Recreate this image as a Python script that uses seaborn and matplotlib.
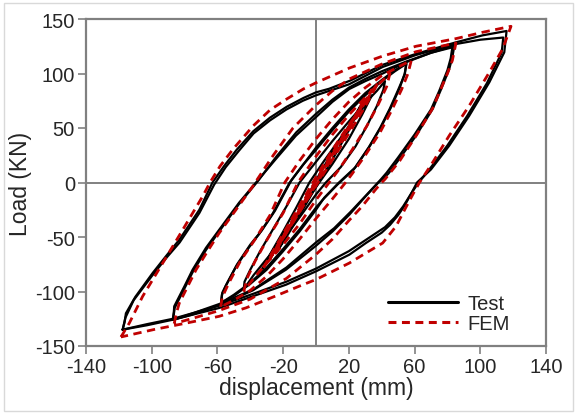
import numpy as np
import pandas as pd
import seaborn as sns
import matplotlib
matplotlib.use("Agg")
import matplotlib.pyplot as plt
from matplotlib.lines import Line2D
from matplotlib.patches import Rectangle

# ---------------- data ----------------
x_ticks = [-140, -100, -60, -20, 20, 60, 100, 140]
y_ticks = [-150, -100, -50, 0, 50, 100, 150]
series_names = ["Test", "FEM"]

# Test cycles: (displacement mm, load kN)
test_loop1a = [(-117.7, -135), (-116.5, -128), (-115.7, -120), (-110, -105), (-99.4, -83), (-91, -67),
               (-83.2, -52.5), (-71, -25), (-63, 0), (-56, 15), (-48.3, 30), (-38.2, 47), (-28, 59.5),
               (-17.8, 69.5), (-7.7, 77.5), (0, 82.7), (8, 86), (20.7, 93.4), (40.6, 108), (60.9, 118),
               (85.2, 128.6), (101.4, 135), (116, 139),
               (115, 125), (114.6, 119.4), (105.5, 91.9), (93.3, 61.3), (81.1, 33.8), (70, 12), (61.5, 0),
               (58, -10), (54, -21), (50, -30), (45, -39), (40, -46), (30.4, -55.5), (20.3, -66.2), (10.1, -73.9),
               (0, -81.5), (-18.3, -93.8), (-38.5, -104.4), (-58.9, -115.1), (-87.2, -125.9), (-103, -131),
               (-117.7, -135)]
test_loop1b = [(-117.7, -135), (-116, -124), (-111, -108), (-100, -86), (-91, -69), (-83, -55), (-71, -28),
               (-62, -2), (-55, 14), (-47, 29), (-38, 45), (-28, 57), (-18, 67), (-8, 75), (0, 80), (10, 85),
               (20, 90), (40.6, 106), (60.9, 117), (85, 127), (100, 131), (114, 133),
               (113, 119), (104, 91), (92, 61), (80, 34), (69, 12), (62, -1), (58, -10), (53, -22), (48, -32),
               (42, -41), (30, -53), (20, -63), (10, -71), (0, -79), (-18, -91), (-38, -102), (-59, -113),
               (-87, -125), (-103, -130), (-117.7, -135)]
test_loop2a = [(-87.2, -126), (-86.5, -118), (-86.3, -113.6), (-80, -95), (-75.1, -80), (-67, -60),
               (-58.9, -43.3), (-46.7, -18.3), (-36.5, 0), (-24.4, 21.6), (-12.2, 43), (0, 60), (10, 74),
               (20.3, 85.8), (30, 93), (40.6, 100), (54.8, 110.3), (70, 119), (84.2, 125.5),
               (83, 115), (81.1, 104.1), (76, 85), (71, 67.4), (60.9, 43), (50.7, 21.6), (44, 8), (38, 0),
               (30, -13), (20, -30), (10, -45), (0, -58), (-18.3, -80), (-38.5, -99), (-58, -112), (-75, -121),
               (-87.2, -126)]
test_loop2b = [(-87, -126), (-86, -115), (-80, -97), (-75, -82), (-67, -62), (-59, -45), (-47, -20), (-35, 2),
               (-24, 24), (-12, 46), (0, 63), (10, 76), (20, 87), (30, 95), (40, 102), (55, 111), (70, 119),
               (83, 124),
               (82, 114), (80, 103), (75, 84), (70, 67), (60, 44), (50, 23), (43, 9), (39, 2), (31, -11),
               (21, -27), (11, -42), (0, -55), (-18, -78), (-38, -98), (-58, -111), (-75, -120), (-87, -126)]
test_loop3a = [(-57.8, -110.5), (-57.3, -103), (-55, -95), (-48.7, -77.3), (-41, -60), (-34.5, -47),
               (-26.4, -28.6), (-16, 0), (-8, 16), (0, 30), (10, 48), (20, 65), (30, 80), (40, 93), (48, 102),
               (55, 109),
               (54, 100), (51, 87), (46, 70), (40, 52), (33, 34), (24, 14), (14, 0), (5, -14), (0, -25),
               (-10, -45), (-20, -63), (-30, -80), (-40, -93), (-50, -104), (-57.8, -110.5)]
test_loop3b = [(-57.8, -110.5), (-57, -101), (-54, -92), (-48, -75), (-40, -57), (-33, -44), (-25, -26),
               (-15, 2), (-7, 18), (0, 32), (10, 50), (20, 67), (30, 82), (40, 94), (48, 103), (55, 109),
               (54, 99), (50, 85), (45, 68), (39, 50), (32, 32), (23, 12), (13, -2), (4, -16), (0, -23),
               (-10, -43), (-20, -61), (-30, -78), (-40, -92), (-50, -103), (-57.8, -110.5)]
test_loop4 = [(-44, -98), (-43.5, -91), (-40, -80), (-34, -63), (-27, -45), (-18, -22), (-10, 0), (0, 19),
              (10, 38), (20, 56), (30, 73), (37, 84), (42, 93),
              (41, 85), (37, 70), (31, 52), (24, 33), (15, 14), (6, 0), (0, -11), (-10, -32), (-20, -52),
              (-30, -70), (-38, -85), (-44, -98)]
test_loop5 = [(-33, -80), (-28, -66), (-20, -45), (-12, -23), (-4, 0), (5, 20), (15, 41), (25, 61), (34, 80),
              (28, 62), (20, 40), (10, 17), (2, 0), (-8, -22), (-18, -44), (-26, -62), (-33, -80)]
test_loop6 = [(-24, -64), (-15, -40), (-6, -15), (0, 2), (10, 28), (20, 52), (27, 70),
              (20, 48), (10, 21), (0, -4), (-10, -30), (-18, -50), (-24, -64)]

# FEM cycles
fem_loop1 = [(-118.7, -141.7), (-113.6, -128.9), (-105.5, -104.4), (-93.3, -73.9), (-81.1, -43.3),
             (-69, -12.7), (-64.5, 0), (-58.4, 15), (-50.3, 31), (-38.2, 52), (-28, 66.5), (-17.8, 76.6),
             (-7.7, 85.8), (0, 91.5), (20.3, 105), (40.6, 116), (60.9, 125), (85.2, 132), (101.4, 137.8),
             (118.7, 143.3),
             (113.6, 122.5), (105.5, 101.1), (93.3, 70.5), (81.1, 43), (70, 16), (63, 0), (60, -8),
             (55, -22), (48.7, -40.2), (40.6, -55.5), (30.4, -64.7), (20.3, -73.9), (10.1, -81.5), (0, -89),
             (-10, -95), (-26, -105), (-42.6, -115), (-59, -122.8), (-79, -129), (-99, -135), (-118.7, -141.7)]
fem_loop2 = [(-86.3, -129.5), (-85, -120), (-83.2, -110.6), (-78, -95), (-73, -80), (-66, -63),
             (-58.9, -46.3), (-48.7, -25), (-38.5, -3.5), (-37, 0), (-26, 25), (-14, 50), (0, 71), (10, 84),
             (20.3, 95), (40.6, 109), (60.9, 120), (85.2, 128),
             (83, 112), (80, 100), (71, 68), (61, 43), (51, 20), (42, 3), (40, 0), (36.5, -6), (28, -22),
             (20, -35), (10, -52), (0, -66), (-18, -88), (-40, -107), (-60, -118), (-86.3, -129.5)]
fem_loop3 = [(-58, -114), (-57, -105), (-53, -92), (-46, -72), (-37, -52), (-28, -30), (-19, 0), (-10, 20),
             (0, 40), (10, 58), (20, 74), (30, 87), (40, 98), (50, 106), (58, 112),
             (56, 100), (52, 85), (46, 66), (39, 46), (30, 25), (22, 8), (18, 0), (10, -15), (0, -33),
             (-10, -52), (-20, -70), (-30, -86), (-40, -99), (-50, -108), (-58, -114)]
fem_loop4 = [(-44, -100), (-42, -88), (-37, -72), (-30, -53), (-20, -28), (-11, 0), (0, 24), (10, 44),
             (20, 62), (30, 78), (38, 90), (45, 100),
             (43, 88), (38, 72), (31, 52), (22, 30), (14, 12), (8, 0), (0, -16), (-10, -38), (-20, -57),
             (-30, -74), (-38, -88), (-44, -100)]
fem_loop5 = [(-32, -78), (-20, -47), (-8, -16), (0, 5), (10, 30), (20, 53), (30, 74), (38, 92),
             (30, 70), (20, 45), (10, 21), (0, -3), (-10, -27), (-20, -51), (-32, -78)]
fem_loop6 = [(-28, -70), (-18, -44), (-8, -18), (0, 2), (10, 27), (20, 51), (28, 70), (34, 85),
             (26, 63), (16, 38), (6, 13), (-4, -12), (-14, -36), (-22, -54), (-28, -70)]
fem_loop7 = [(-25, -64), (-15, -38), (-5, -12), (5, 13), (15, 38), (25, 63), (30, 78),
             (22, 56), (12, 30), (2, 4), (-8, -22), (-18, -46), (-25, -64)]

test_loops = [test_loop6, test_loop5, test_loop4, test_loop3a, test_loop3b, test_loop2a, test_loop2b,
              test_loop1a, test_loop1b]
fem_loops = [fem_loop7, fem_loop6, fem_loop5, fem_loop4, fem_loop3, fem_loop2, fem_loop1]


def to_frame(loops, name):
    rows = []
    for i, loop in enumerate(loops):
        for j, (xv, yv) in enumerate(loop):
            rows.append({"disp": xv, "load": yv, "cycle": i, "order": j, "series": name})
    return pd.DataFrame(rows)


df_test = to_frame(test_loops, series_names[0])
df_fem = to_frame(fem_loops, series_names[1])

# ---------------- plot ----------------
sns.set_theme(style="white")
plt.rcParams["font.family"] = ["Liberation Sans", "DejaVu Sans"]
plt.rcParams["axes.unicode_minus"] = False

W, H = 577, 414
fig = plt.figure(figsize=(W / 100, H / 100), dpi=100)
ax = fig.add_axes([86 / W, (H - 347) / H, 460 / W, 327 / H])

gray = "#808080"
ax.axhline(0, color=gray, lw=1.4, zorder=1)
ax.axvline(0, color=gray, lw=1.4, zorder=1)

red = "#C00000"
sns.lineplot(data=df_test, x="disp", y="load", units="cycle", estimator=None, sort=False,
             color="black", linewidth=1.6, ax=ax, zorder=3)
sns.lineplot(data=df_fem, x="disp", y="load", units="cycle", estimator=None, sort=False,
             color=red, linewidth=2.0, linestyle=(0, (3.0, 2.0)), ax=ax, zorder=4)

ax.set_xlim(-140, 140)
ax.set_ylim(-150, 150)
ax.set_xticks(x_ticks)
ax.set_yticks(y_ticks)
ax.tick_params(axis="both", direction="out", length=6, width=1.2, color=gray,
               labelsize=14.5, pad=2, bottom=True, left=True)
for s in ax.spines.values():
    s.set_color(gray)
    s.set_linewidth(1.6)

ax.set_xlabel("displacement (mm)", fontsize=16.5, labelpad=0)
ax.set_ylabel("Load (KN)", fontsize=16.5, labelpad=2)

handles = [Line2D([], [], color="black", lw=2.2),
           Line2D([], [], color=red, lw=2.2, linestyle=(0, (2.6, 1.8)))]
ax.legend(handles, series_names, loc="center left", bbox_to_anchor=((388 - 86) / 460, (347 - 314.5) / 327),
          frameon=False, fontsize=14.5, handlelength=3.5, handletextpad=0.45, labelspacing=0.05,
          borderpad=0, borderaxespad=0)

fig.patches.append(Rectangle((4 / W, 2 / H), (W - 8) / W, (H - 6) / H, transform=fig.transFigure,
                             fill=False, edgecolor="#d9d9d9", lw=1.0))

fig.savefig("out.png", dpi=100)
